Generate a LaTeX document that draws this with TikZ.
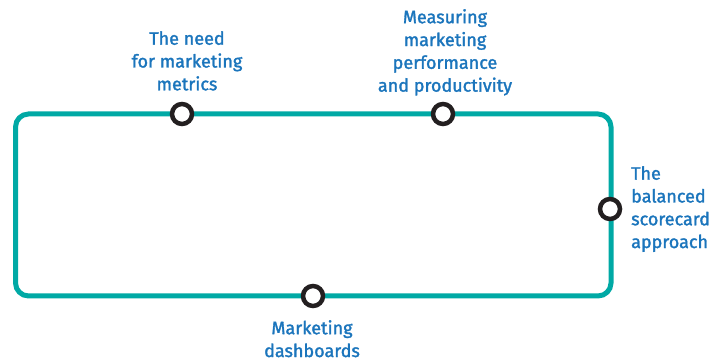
\documentclass[tikz,border=0pt]{standalone}
\usepackage{fontspec}
\setmainfont{Fira Sans}[FakeBold=1.6]
\definecolor{teal1}{HTML}{00A9A5}
\definecolor{ring}{HTML}{231F20}
\definecolor{lbl}{HTML}{1B75BC}
\begin{document}
\begin{tikzpicture}[x=1pt,y=-1pt,
  ringnode/.style={circle,draw=ring,line width=4.5pt,fill=white,minimum size=20pt,inner sep=0pt},
  label/.style={text=lbl,font=\fontsize{18pt}{22.8pt}\selectfont,inner sep=0pt}]
\useasboundingbox (0,0) rectangle (715,363);
\draw[teal1,line width=5pt,rounded corners=13pt] (15.5,114) rectangle (611,296);
\node[ringnode] (c1) at (182,114) {};
\node[ringnode] (c2) at (443,114) {};
\node[ringnode] (c3) at (610,209) {};
\node[ringnode] (c4) at (313,296) {};
\node[label,align=center,anchor=north] (t1) at (187,31) {The need\\for marketing\\metrics};
\node[label,align=center,anchor=north] (t2) at (445,9) {Measuring\\marketing\\performance\\and productivity};
\node[label,align=left,anchor=north west] (t3) at (631,166) {The\\balanced\\scorecard\\approach};
\node[label,align=center,anchor=north] (t4) at (312,320) {Marketing\\dashboards};
\end{tikzpicture}
\end{document}
